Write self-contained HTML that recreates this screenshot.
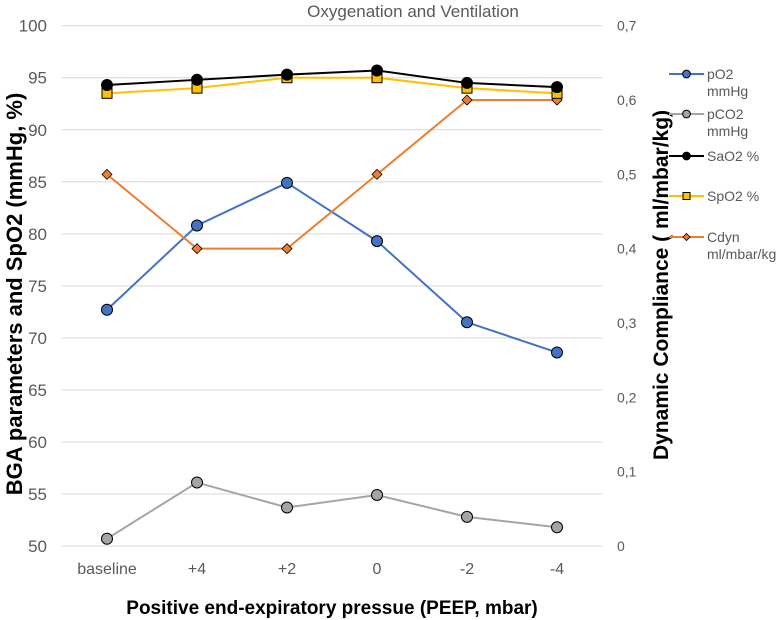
<!DOCTYPE html>
<html><head><meta charset="utf-8"><style>
html,body{margin:0;padding:0;background:#fff;}
svg{display:block;font-family:"Liberation Sans",sans-serif;}
</style></head><body>
<svg id="chart" width="779" height="620" viewBox="0 0 779 620"></svg>
<script>
const categories=["baseline","+4","+2","0","-2","-4"];
const pO2=[72.7,80.8,84.9,79.3,71.5,68.6];
const pCO2=[50.7,56.1,53.7,54.9,52.8,51.8];
const SaO2=[94.3,94.8,95.3,95.7,94.5,94.1];
const SpO2=[93.5,94.0,95.0,95.0,94.0,93.5];
const Cdyn=[0.5,0.4,0.4,0.5,0.6,0.6];
const leftTicks=[50,55,60,65,70,75,80,85,90,95,100];
const rightTicks=[0,0.1,0.2,0.3,0.4,0.5,0.6,0.7];

const NS="http://www.w3.org/2000/svg";
const svg=document.getElementById('chart');
const X0=62,X1=602,YT=25.7,YB=546;
const band=(X1-X0)/categories.length;
const xs=i=>X0+band*(i+0.5);
const yl=v=>YB-(v-50)/50*(YB-YT);
const yr=v=>YB-v/0.7*(YB-YT);
function mk(tag,attrs,name,parent){const e=document.createElementNS(NS,tag);for(const k in attrs)e.setAttribute(k,attrs[k]);


(parent||svg).appendChild(e);return e;}
function txt(x,y,s,attrs,name){const t=mk('text',Object.assign({x:x,y:y},attrs),name);t.textContent=s;return t;}

leftTicks.forEach(v=>{mk('line',{x1:X0,x2:X1,y1:yl(v),y2:yl(v),stroke:'#d9d9d9','stroke-width':1},'gridline');
txt(47,yl(v)+6,String(v),{'text-anchor':'end','font-size':17,fill:'#595959'},'left-tick-label');});
rightTicks.forEach(v=>{txt(617,yr(v)+5,String(v).replace('.',','),{'font-size':14,fill:'#595959'},'right-tick-label');});
categories.forEach((c,i)=>txt(xs(i),574,c,{'text-anchor':'middle','font-size':16,fill:'#595959'},'x-tick-label'));

txt(413,17,"Oxygenation and Ventilation",{'text-anchor':'middle','font-size':17,fill:'#595959'},'chart-title');
txt(332,614,"Positive end-expiratory pressue (PEEP, mbar)",{'text-anchor':'middle','font-size':19,'font-weight':'bold',fill:'#000'},'x-axis-title');
txt(0,0,"BGA parameters and SpO2 (mmHg, %)",{'text-anchor':'middle','font-size':22,'font-weight':'bold',transform:'translate(22,294) rotate(-90)'},'left-axis-title');
txt(0,0,"Dynamic Compliance ( ml/mbar/kg)",{'text-anchor':'middle','font-size':21,'font-weight':'bold',transform:'translate(668,285) rotate(-90)'},'right-axis-title');

function marker(x,y,shape,fill,name,s){
 s=s||1;
 if(shape==='circle')return mk('circle',{cx:x,cy:y,r:5.5*s,fill:fill,stroke:'#000','stroke-width':1},name);
 if(shape==='square')return mk('rect',{x:x-5*s,y:y-5*s,width:10*s,height:10*s,fill:fill,stroke:'#000','stroke-width':1},name);
 return mk('polygon',{points:`${x},${y-5*s} ${x+5*s},${y} ${x},${y+5*s} ${x-5*s},${y}`,fill:fill,stroke:'#000','stroke-width':0.8},name);
}
function series(vals,scale,color,shape,fill,name){
 mk('polyline',{points:vals.map((v,i)=>xs(i)+','+scale(v)).join(' '),fill:'none',stroke:color,'stroke-width':2},name+'-line');
 vals.forEach((v,i)=>marker(xs(i),scale(v),shape,fill,name+'-point'));
}
series(pCO2,yl,'#a5a5a5','circle','#a5a5a5','pco2');
series(pO2,yl,'#4472c4','circle','#4472c4','po2');
series(Cdyn,yr,'#ed7d31','diamond','#ed7d31','cdyn');
series(SpO2,yl,'#ffc000','square','#ffc000','spo2');
series(SaO2,yl,'#000','circle','#000','sao2');

const legend=[["pO2","mmHg",'#4472c4','circle',74],["pCO2","mmHg",'#a5a5a5','circle',114],["SaO2 %","",'#000','circle',156],["SpO2 %","",'#ffc000','square',196],["Cdyn","ml/mbar/kg",'#ed7d31','diamond',237]];
legend.forEach(l=>{
 mk('line',{x1:669,x2:704,y1:l[4],y2:l[4],stroke:l[2],'stroke-width':2},'legend-line');
 marker(686.5,l[4],l[3],l[2],'legend-marker',0.7);
 txt(707,l[4]+5,l[0],{'font-size':14,fill:'#595959'},'legend-label');
 if(l[1])txt(707,l[4]+22,l[1],{'font-size':14,fill:'#595959'},'legend-label-unit');
});
</script>
</body></html>
